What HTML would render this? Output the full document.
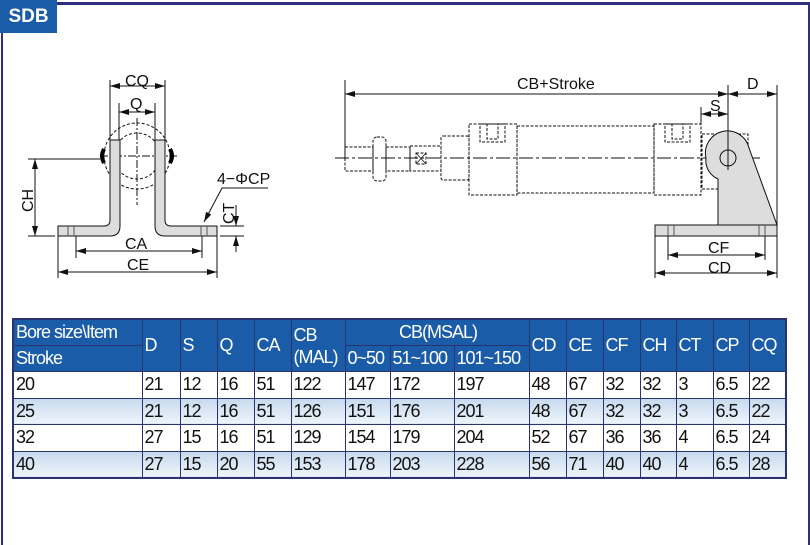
<!DOCTYPE html>
<html><head><meta charset="utf-8"><style>
body{margin:0;width:810px;height:534px;background:#fff;position:relative;overflow:hidden;font-family:"Liberation Sans",sans-serif}
#frame{position:absolute;left:1px;top:2px;width:805px;height:540px;border-top:3px solid #2e2e7e;border-left:2px solid #2e2e7e;border-right:3px solid #2e2e7e}
#tag{position:absolute;left:0;top:0;width:57px;height:33px;background:#1a5ca8;color:#fff;font-weight:bold;font-size:19px;line-height:33px;text-align:center}
svg{position:absolute;left:0;top:0}
table{position:absolute;left:12px;top:318px;width:774px;border-collapse:collapse;table-layout:fixed;font-size:18px;letter-spacing:-1px;border:2px solid #2a3370}
td{border:1.5px solid #2a3370;padding:0 0 0 2px;height:25px;line-height:25px;white-space:nowrap;overflow:hidden;color:#111}
.h td{background:#1a5ca8;color:#fff;height:25px}
.d td{height:25.5px}
.g td{background:linear-gradient(#c6daee,#eef4fa)}
</style></head><body>
<div id="frame"></div>
<div id="tag">SDB</div>
<svg width="810" height="320" viewBox="0 0 810 320" font-family="Liberation Sans" font-size="16" fill="none" stroke="#111" stroke-width="1">
<defs><marker id="a" viewBox="0 0 10 6" refX="10" refY="3" markerWidth="10" markerHeight="6" orient="auto-start-reverse"><path d="M0,0L10,3L0,6z" fill="#111" stroke="none"/></marker></defs>
<g stroke-dasharray="3,2">
<circle cx="137" cy="156" r="33"/><circle cx="137" cy="156" r="23"/>
</g>
<path d="M137,118V205M100,156H177" stroke-dasharray="8,2,2,2"/>
<path d="M104,149q-4,7 0,14M170,149q4,7 0,14" stroke="#000" stroke-width="4"/>
<path id="lb" d="M110,140H120V220q0,6 -6,6H58V236H110q10,0 10,-10z" fill="#ddd" stroke="none"/>
<path d="M110,140H120V226q0,10 -10,10H58V226H104q6,0 6,-6z" fill="#ddd"/>
<path d="M110,140H120V226q0,10 -10,10H58V226H104q6,0 6,-6z" fill="#ddd" transform="matrix(-1,0,0,1,275,0)"/>
<path d="M68,226v10M74,226v10M201,226v10M207,226v10" stroke="#555"/>
<path d="M110,140V80M165,140V80M119,140V103M155,140V103"/>
<path d="M110,86H165" marker-start="url(#a)" marker-end="url(#a)"/>
<path d="M119,112H155" marker-start="url(#a)" marker-end="url(#a)"/>
<path d="M100,159H28M55,236H28"/>
<path d="M35,159V236" marker-start="url(#a)" marker-end="url(#a)"/>
<path d="M58,236V278M217,236V278M76,236V258M202,236V258"/>
<path d="M76,251H202" marker-start="url(#a)" marker-end="url(#a)"/>
<path d="M58,272H217" marker-start="url(#a)" marker-end="url(#a)"/>
<path d="M220,226H244M220,236H244"/>
<path d="M236,205V226" marker-end="url(#a)"/><path d="M236,252V236" marker-end="url(#a)"/>
<path d="M268,188H222L204,222" marker-end="url(#a)"/>
<g fill="#111" stroke="none">
<text x="125" y="86">CQ</text><text x="130" y="109">Q</text>
<text x="125" y="249">CA</text><text x="127" y="270">CE</text>
<text x="217" y="184">4−ΦCP</text>
<text transform="translate(33,212) rotate(-90)">CH</text>
<text transform="translate(234,224) rotate(-90)">CT</text>
</g>
<g stroke-dasharray="3,1.5">
<rect x="345" y="147" width="28" height="24"/>
<rect x="373" y="137" width="13" height="44" rx="4"/>
<rect x="386" y="147" width="24" height="24"/>
<rect x="410" y="146" width="31" height="25"/>
<rect x="416" y="153" width="10" height="11"/>
<rect x="441" y="136" width="28" height="44" rx="2"/>
<rect x="469" y="124" width="48" height="71"/>
<rect x="517" y="126" width="137" height="67"/>
<rect x="654" y="124" width="47" height="71"/>
<rect x="480" y="124" width="25" height="18"/><rect x="487" y="124" width="11" height="15"/>
<rect x="665" y="124" width="25" height="18"/><rect x="672" y="124" width="11" height="15"/>
<rect x="702" y="134" width="46" height="55"/>
</g>
<path d="M416,153l10,11M426,153l-10,11" stroke-width="0.8"/>
<path d="M335,158H760" stroke-dasharray="14,3,3,3"/>
<path d="M706,158A22,22 0 0 1 749,148L777,225H718V179A20,20 0 0 1 706,158z" fill="#ddd"/>
<circle cx="728" cy="158" r="8"/>
<rect x="655" y="225" width="122" height="11" fill="#ddd"/>
<path d="M668,225v11M674,225v11M759,225v11M765,225v11" stroke="#555"/>
<path d="M345,80V160M728,85V170M777,85V225M701,107V124"/>
<path d="M345,94H728" marker-start="url(#a)" marker-end="url(#a)"/>
<path d="M728,94H777" marker-start="url(#a)" marker-end="url(#a)"/>
<path d="M701,114H728" marker-start="url(#a)" marker-end="url(#a)"/>
<path d="M655,236V278M777,236V278M668,236V260M765,236V260"/>
<path d="M668,255H765" marker-start="url(#a)" marker-end="url(#a)"/>
<path d="M655,273H777" marker-start="url(#a)" marker-end="url(#a)"/>
<g fill="#111" stroke="none">
<text x="517" y="89">CB+Stroke</text><text x="747" y="89">D</text>
<text x="710" y="111">S</text>
<text x="708" y="253">CF</text><text x="708" y="273">CD</text>
</g>
</svg>
<table>
<colgroup><col style="width:129px"><col style="width:38px"><col style="width:37px"><col style="width:37px"><col style="width:37px"><col style="width:54px"><col style="width:45px"><col style="width:64px"><col style="width:75px"><col style="width:37px"><col style="width:37px"><col style="width:37px"><col style="width:36px"><col style="width:37px"><col style="width:36px"><col style="width:37px"></colgroup>
<tr class="h"><td>Bore size\Item</td><td rowspan="2">D</td><td rowspan="2">S</td><td rowspan="2">Q</td><td rowspan="2">CA</td><td rowspan="2" style="line-height:22px">CB<br>(MAL)</td><td colspan="3" style="text-align:center">CB(MSAL)</td><td rowspan="2">CD</td><td rowspan="2">CE</td><td rowspan="2">CF</td><td rowspan="2">CH</td><td rowspan="2">CT</td><td rowspan="2">CP</td><td rowspan="2">CQ</td></tr>
<tr class="h"><td>Stroke</td><td>0~50</td><td>51~100</td><td>101~150</td></tr>
<tr class="d"><td>20</td><td>21</td><td>12</td><td>16</td><td>51</td><td>122</td><td>147</td><td>172</td><td>197</td><td>48</td><td>67</td><td>32</td><td>32</td><td>3</td><td>6.5</td><td>22</td></tr>
<tr class="d g"><td>25</td><td>21</td><td>12</td><td>16</td><td>51</td><td>126</td><td>151</td><td>176</td><td>201</td><td>48</td><td>67</td><td>32</td><td>32</td><td>3</td><td>6.5</td><td>22</td></tr>
<tr class="d"><td>32</td><td>27</td><td>15</td><td>16</td><td>51</td><td>129</td><td>154</td><td>179</td><td>204</td><td>52</td><td>67</td><td>36</td><td>36</td><td>4</td><td>6.5</td><td>24</td></tr>
<tr class="d g"><td>40</td><td>27</td><td>15</td><td>20</td><td>55</td><td>153</td><td>178</td><td>203</td><td>228</td><td>56</td><td>71</td><td>40</td><td>40</td><td>4</td><td>6.5</td><td>28</td></tr>
</table>
</body></html>
